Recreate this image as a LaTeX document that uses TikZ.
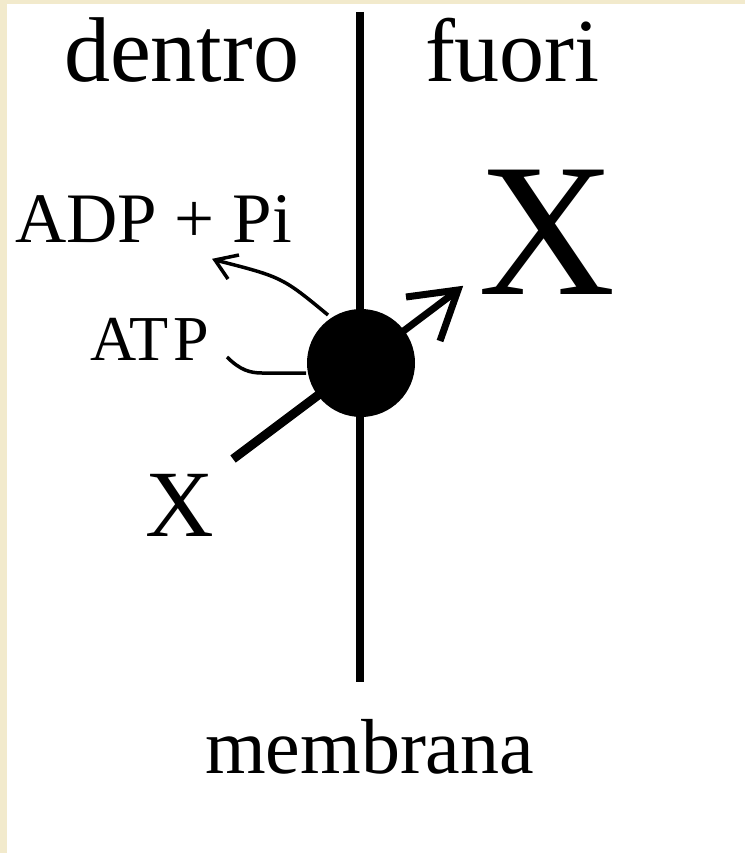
\documentclass[tikz,border=0pt]{standalone}
\usepackage{fontspec}
\setmainfont{Liberation Serif}
\definecolor{beige}{RGB}{242,234,204}
\begin{document}
\begin{tikzpicture}[x=1pt,y=-1pt,
  lbl/.style={anchor=base west,inner sep=0pt,outer sep=0pt},
  thin/.style={line width=3.5pt,line join=miter},
]
\fill[beige] (0,0) rectangle (745,853);
\fill[white] (7,4) rectangle (745,853);
\useasboundingbox (0,0) rectangle (745,853);
% labels
\node[lbl,font=\fontsize{92}{92}\selectfont] (dentro) at (64,82) {dentro};
\node[lbl,font=\fontsize{90}{90}\selectfont] (fuori) at (425,82) {fuori};
\node[lbl,font=\fontsize{190}{190}\selectfont] (bigX) at (478,294) {X};
\node[lbl,font=\fontsize{71}{71}\selectfont] (adp) at (15,242) {ADP + Pi};
\node[lbl,font=\fontsize{64}{64}\selectfont] (atp) at (90,360) {AT\kern5pt P};
\node[lbl,font=\fontsize{95}{95}\selectfont] (lowX) at (145,536) {X};
\node[lbl,font=\fontsize{78}{78}\selectfont] (membrana) at (205,773) {membrana};
% coordinates
\coordinate (mtop) at (360,12);
\coordinate (mbot) at (360,682);
\coordinate (pc) at (361,363);
\coordinate (xin) at (233,459);
\coordinate (tip) at (458,290);
\coordinate (b1) at (406,297);
\coordinate (b2) at (440,341);
\coordinate (adpstart) at (328,315);
\coordinate (adptip) at (215,260);
\coordinate (ab1) at (239,255);
\coordinate (ab2) at (228,279);
\coordinate (atpstart) at (227,357);
\coordinate (atpend) at (306,373);
% membrane
\draw[line width=7.5pt] (mtop) -- (mbot);
% X in
\draw[line width=9pt] (xin) -- (pc);
% X out
\draw[line width=7pt] (pc) -- (tip);
\draw[line width=7pt,line join=miter] (b1) -- (tip) -- (b2);
% pump
\node[circle,fill=black,minimum size=108pt,inner sep=0pt] (pump) at (pc) {};
% ADP arrow
\draw[thin] (adpstart) .. controls (282,277) .. (adptip);
\draw[thin] (ab1) -- (adptip) -- (ab2);
% ATP line
\draw[thin] (atpstart) .. controls (240,370) and (250,373) .. (262,373) -- (atpend);
\end{tikzpicture}
\end{document}
